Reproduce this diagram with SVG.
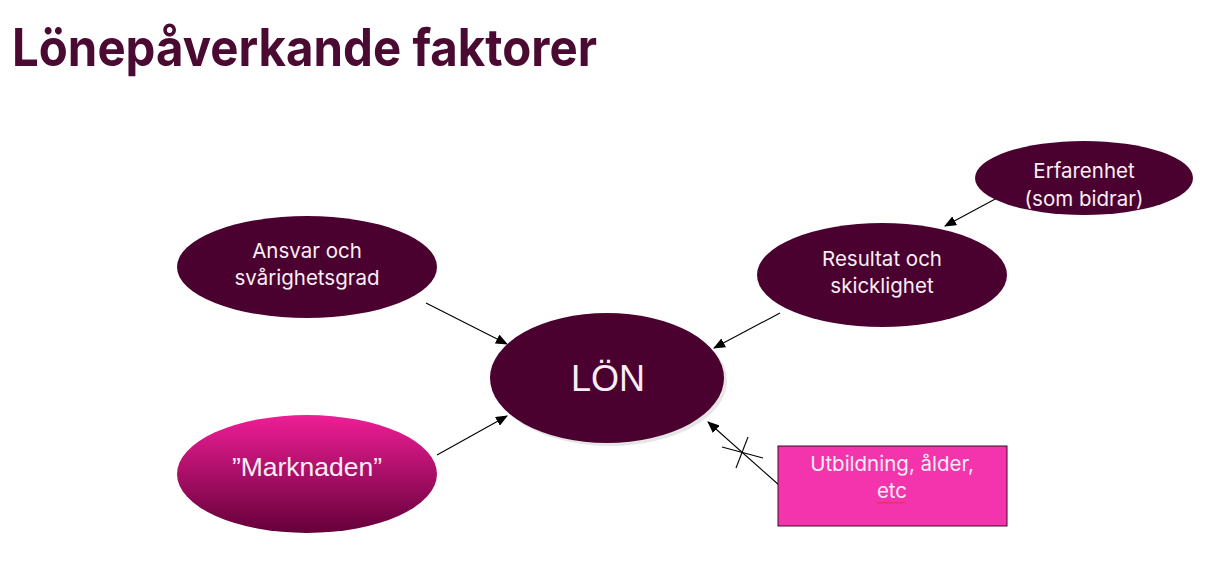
<svg xmlns="http://www.w3.org/2000/svg" width="1210" height="581" viewBox="0 0 1210 581">
<style>
.el{fill:#4b0130}
.lbl{font-family:Inter,"Liberation Sans",sans-serif;fill:#f8eef4;text-anchor:middle;font-size:20.5px}
.con{stroke:#000;stroke-width:1.1;fill:none}
</style>
<defs>
<marker id="ah" markerWidth="12" markerHeight="10" refX="11" refY="5" orient="auto" markerUnits="userSpaceOnUse">
<path d="M0,0 L12,5 L0,10 Z" fill="#000"/>
</marker>
<linearGradient id="mg" x1="0" y1="0" x2="0" y2="1">
<stop offset="0" stop-color="#ee1e96"/>
<stop offset="1" stop-color="#640039"/>
</linearGradient>
</defs>
<rect width="1210" height="581" fill="#fff"/>
<text x="12" y="66" font-family="Inter,'Liberation Sans',sans-serif" font-weight="700" font-size="52" fill="#4a0a32" textLength="585" lengthAdjust="spacingAndGlyphs">Lönepåverkande faktorer</text>

<g id="connectors">
<line class="con" x1="426" y1="303" x2="507" y2="344" marker-end="url(#ah)"/>
<line class="con" x1="437" y1="455" x2="507" y2="416" marker-end="url(#ah)"/>
<line class="con" x1="780" y1="313" x2="714" y2="348" marker-end="url(#ah)"/>
<line class="con" x1="1012" y1="190" x2="945" y2="226" marker-end="url(#ah)"/>
<line class="con" x1="779" y1="485" x2="708" y2="422" marker-end="url(#ah)"/>
<line class="con" x1="722" y1="447" x2="763" y2="458"/>
<line class="con" x1="748" y1="437" x2="736" y2="468"/>
</g>

<g id="node-ansvar">
<ellipse class="el" cx="307" cy="267" rx="130" ry="51"/>
<text class="lbl" x="307" y="258">Ansvar och</text>
<text class="lbl" x="307" y="285">svårighetsgrad</text>
</g>

<g id="node-marknaden">
<ellipse cx="307" cy="474" rx="130" ry="59" fill="url(#mg)"/>
<text x="307" y="476" font-family="'Liberation Sans',Arial,sans-serif" font-size="26.5" fill="#f8eef4" text-anchor="middle">”Marknaden”</text>
</g>

<g id="node-lon">
<ellipse cx="610" cy="381" rx="117" ry="65" fill="#e6e6e6"/>
<ellipse class="el" cx="607" cy="378" rx="117" ry="65"/>
<text x="608" y="391" font-family="'Liberation Sans',Arial,sans-serif" font-size="36" fill="#f8eef4" text-anchor="middle">LÖN</text>
</g>

<g id="node-resultat">
<ellipse class="el" cx="882" cy="275" rx="125" ry="52"/>
<text class="lbl" x="882" y="266">Resultat och</text>
<text class="lbl" x="882" y="293">skicklighet</text>
</g>

<g id="node-erfarenhet">
<ellipse class="el" cx="1084" cy="178" rx="109" ry="37"/>
<text class="lbl" x="1084" y="178">Erfarenhet</text>
<text class="lbl" x="1084" y="206">(som bidrar)</text>
</g>

<g id="node-utbildning">
<rect x="778" y="446" width="229" height="80" fill="#f434ad" stroke="#3a0a26" stroke-width="1"/>
<text class="lbl" x="892" y="471">Utbildning, ålder,</text>
<text class="lbl" x="892" y="498">etc</text>
<path d="M876,502 l2,1.5 l2,-1.5 l2,1.5 l2,-1.5 l2,1.5 l2,-1.5 l2,1.5 l2,-1.5 l2,1.5 l2,-1.5 l2,1.5 l2,-1.5 l2,1.5 l2,-1.5 l2,1.5" fill="none" stroke="#e03030" stroke-width="0.8"/>
</g>
</svg>
